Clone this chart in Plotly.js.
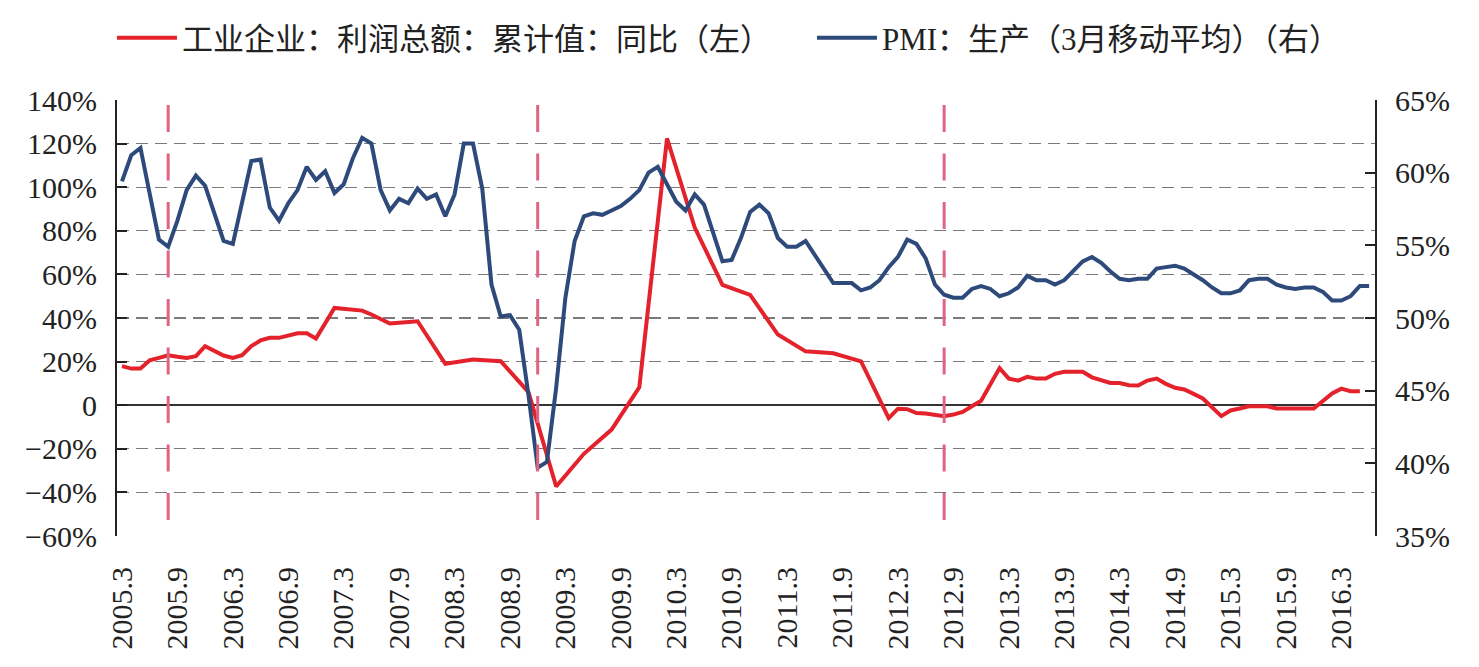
<!DOCTYPE html>
<html><head><meta charset="utf-8">
<script src="https://cdn.plot.ly/plotly-3.0.1.min.js"></script>
<style>html,body{margin:0;padding:0;background:#fff;} #chart{width:1479px;height:667px;}</style>
</head><body><div id="chart"></div>
<script>
// Months 2005.3 .. 2016.6
const months = [
 '2005.3','2005.4','2005.5','2005.6','2005.7','2005.8','2005.9','2005.10','2005.11','2005.12',
 '2006.1','2006.2','2006.3','2006.4','2006.5','2006.6','2006.7','2006.8','2006.9','2006.10','2006.11','2006.12',
 '2007.1','2007.2','2007.3','2007.4','2007.5','2007.6','2007.7','2007.8','2007.9','2007.10','2007.11','2007.12',
 '2008.1','2008.2','2008.3','2008.4','2008.5','2008.6','2008.7','2008.8','2008.9','2008.10','2008.11','2008.12',
 '2009.1','2009.2','2009.3','2009.4','2009.5','2009.6','2009.7','2009.8','2009.9','2009.10','2009.11','2009.12',
 '2010.1','2010.2','2010.3','2010.4','2010.5','2010.6','2010.7','2010.8','2010.9','2010.10','2010.11','2010.12',
 '2011.1','2011.2','2011.3','2011.4','2011.5','2011.6','2011.7','2011.8','2011.9','2011.10','2011.11','2011.12',
 '2012.1','2012.2','2012.3','2012.4','2012.5','2012.6','2012.7','2012.8','2012.9','2012.10','2012.11','2012.12',
 '2013.1','2013.2','2013.3','2013.4','2013.5','2013.6','2013.7','2013.8','2013.9','2013.10','2013.11','2013.12',
 '2014.1','2014.2','2014.3','2014.4','2014.5','2014.6','2014.7','2014.8','2014.9','2014.10','2014.11','2014.12',
 '2015.1','2015.2','2015.3','2015.4','2015.5','2015.6','2015.7','2015.8','2015.9','2015.10','2015.11','2015.12',
 '2016.1','2016.2','2016.3','2016.4','2016.5','2016.6'
];

// 工业企业：利润总额：累计值：同比 (%), left axis
const profitYoY = [
 17.9,16.8,16.8,20.6,21.7,22.9,22.2,21.7,22.5,27.1,
 null,22.8,21.7,22.9,27.1,29.7,30.9,30.9,32.1,33.0,33.0,30.6,
 null,44.6,44.2,43.9,43.4,41.6,39.8,37.5,37.8,38.1,38.5,null,
 null,19.0,null,null,21.0,null,null,20.2,null,null,6.0,null,
 null,-37.3,null,null,-22.3,null,null,-11.2,null,null,8.2,null,
 null,122.4,null,null,81.5,null,null,55.2,null,null,50.6,null,
 null,32.4,null,null,24.7,null,null,23.8,22.6,21.6,20.1,null,
 null,-5.9,-1.6,-1.8,-3.6,-3.8,-4.3,-5.1,-4.3,-3.1,-0.5,2.0,
 null,17.0,12.2,11.3,13.0,12.2,12.2,14.4,15.3,15.3,15.3,12.8,
 null,10.2,10.2,9.2,9.0,11.3,12.2,9.8,8.0,7.2,5.2,3.1,
 null,-5.0,-2.4,-1.5,-0.5,-0.5,-0.5,-1.5,-1.5,-1.5,-1.5,-1.5,
 null,5.4,7.6,6.4,6.4,null
];

// PMI：生产（3月移动平均）(%), right axis
const pmiProduction = [
 59.4,61.2,61.7,58.5,55.4,54.9,56.7,58.8,59.8,59.1,
 57.3,55.3,55.1,57.9,60.8,60.9,57.6,56.7,57.9,58.8,60.4,59.5,
 60.1,58.6,59.2,61.0,62.4,62.0,58.8,57.4,58.2,57.9,58.9,58.2,
 58.5,57.0,58.5,62.0,62.0,58.9,52.3,50.1,50.2,49.2,44.7,39.7,
 40.1,45.2,51.4,55.3,57.0,57.2,57.1,57.4,57.7,58.2,58.8,60.0,
 60.4,59.2,58.0,57.4,58.5,57.8,55.8,53.9,54.0,55.5,57.3,57.8,
 57.2,55.5,54.9,54.9,55.3,54.3,53.3,52.4,52.4,52.4,51.9,52.1,
 52.6,53.5,54.2,55.4,55.1,54.1,52.3,51.6,51.4,51.4,52.0,52.2,
 52.0,51.5,51.7,52.1,52.9,52.6,52.6,52.3,52.6,53.3,53.9,54.2,
 53.8,53.2,52.7,52.6,52.7,52.7,53.4,53.5,53.6,53.4,53.0,52.6,
 52.1,51.7,51.7,51.9,52.6,52.7,52.7,52.3,52.1,52.0,52.1,52.1,
 51.8,51.2,51.2,51.5,52.2,52.2
];

const tickLabels = ['2005.3','2005.9','2006.3','2006.9','2007.3','2007.9','2008.3','2008.9',
 '2009.3','2009.9','2010.3','2010.9','2011.3','2011.9','2012.3','2012.9','2013.3','2013.9',
 '2014.3','2014.9','2015.3','2015.9','2016.3'];
const markerMonths = ['2005.8','2008.12','2012.8'];
const leftTicks = [-60,-40,-20,0,20,40,60,80,100,120,140];
const leftTickText = ['\u221260%','\u221240%','\u221220%','0','20%','40%','60%','80%','100%','120%','140%'];
const rightTicks = [35,40,45,50,55,60,65];
const rightTickText = ['35%','40%','45%','50%','55%','60%','65%'];

const seriesNames = ['工业企业：利润总额：累计值：同比（左）','PMI：生产（3月移动平均）（右）'];

const FONT = "'Liberation Serif','Times New Roman','Noto Sans CJK SC',serif";

const traces = [
 {x: months, y: profitYoY, name: seriesNames[0], type: 'scatter', mode: 'lines', connectgaps: true,
  line: {color: '#E3222B', width: 4}, yaxis: 'y', legend: 'legend'},
 {x: months, y: pmiProduction, name: seriesNames[1], type: 'scatter', mode: 'lines',
  line: {color: '#2D4A7B', width: 4}, yaxis: 'y2', legend: 'legend2'}
];

const shapes = markerMonths.map(m => ({
 type: 'line', xref: 'x', yref: 'paper',
 x0: months.indexOf(m), x1: months.indexOf(m), y0: 0.9885, y1: 0.0367,
 line: {color: '#E06482', width: 3, dash: '27px,21.5px'}, layer: 'above'
}));

const legendBase = {orientation: 'h', xref: 'container', yref: 'container', xanchor: 'left',
  y: 0.943, yanchor: 'middle', font: {family: FONT, size: 31, color: '#222'}, itemwidth: 60,
  bgcolor: 'rgba(0,0,0,0)'};

const layout = {
 width: 1479, height: 667,
 paper_bgcolor: '#fff', plot_bgcolor: '#fff',
 margin: {l: 117, r: 104, t: 100, b: 131, pad: 0},
 font: {family: FONT, size: 30, color: '#222'},
 showlegend: true,
 legend: Object.assign({}, legendBase, {x: 0.0757}),
 legend2: Object.assign({}, legendBase, {x: 0.5490}),
 xaxis: {type: 'category', range: [-0.54, 135.64], tickmode: 'array', tickvals: tickLabels, ticktext: tickLabels,
  tickangle: -90, ticks: '', showline: false, showgrid: false, zeroline: false, ticklabelstandoff: 24,
  tickfont: {family: FONT, size: 30, color: '#222'}, automargin: false, fixedrange: true},
 yaxis: {range: [-60, 140], tickmode: 'array', tickvals: leftTicks, ticktext: leftTickText,
  ticks: 'inside', ticklen: 10, tickwidth: 2, tickcolor: '#222',
  showline: true, linewidth: 2, linecolor: '#222',
  showgrid: true, gridcolor: '#7a7a7a', gridwidth: 1.3, griddash: '12px,7px',
  zeroline: true, zerolinecolor: '#333', zerolinewidth: 1.6, ticklabelstandoff: 12,
  tickfont: {family: FONT, size: 30, color: '#222'}, automargin: false, fixedrange: true},
 yaxis2: {range: [35, 65], overlaying: 'y', side: 'right', tickmode: 'array', tickvals: rightTicks, ticktext: rightTickText,
  ticks: 'inside', ticklen: 10, tickwidth: 2, tickcolor: '#222',
  showline: true, linewidth: 2, linecolor: '#222', showgrid: false, zeroline: false, ticklabelstandoff: 12,
  tickfont: {family: FONT, size: 30, color: '#222'}, automargin: false, fixedrange: true},
 shapes: shapes
};

Plotly.newPlot('chart', traces, layout, {displayModeBar: false, staticPlot: true});
</script>
</body></html>
